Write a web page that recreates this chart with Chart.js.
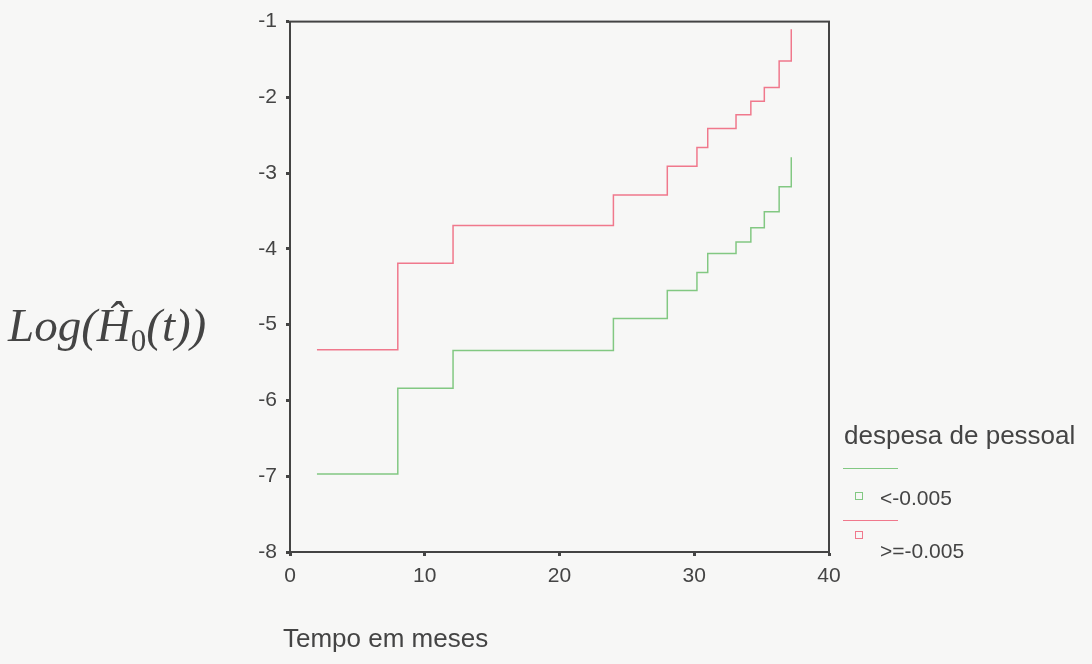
<!DOCTYPE html>
<html>
<head>
<meta charset="utf-8">
<script src="https://cdn.jsdelivr.net/npm/chart.js@4"></script>
<style>
  body { margin: 0; background: #f7f7f6; width: 1092px; height: 664px; overflow: hidden; position: relative; }
  #wrap { position: absolute; left: 0; top: 0; width: 1092px; height: 664px; }
  .lbl { position: absolute; font-family: "Liberation Sans", Arial, sans-serif; color: #444; white-space: nowrap; }
  #ytitle { position: absolute; left: 8px; top: 298px; font-family: "Liberation Serif", "Times New Roman", serif; font-size: 47px; color: #444; white-space: nowrap; }
  #ytitle sub { font-style: normal; font-size: 31px; vertical-align: -10px; }
  .sw { position: absolute; width: 55px; height: 0; border-top: 1.5px solid; }
  .sq { position: absolute; width: 6px; height: 6px; border: 1.5px solid; }
</style>
</head>
<body>
<div id="wrap"><canvas id="chart" width="1092" height="664"></canvas></div>
<div id="ytitle"><i>Log(Ĥ</i><sub>0</sub><i>(t))</i></div>
<div class="lbl" style="left:283px; top:623px; font-size:26px;">Tempo em meses</div>
<div class="lbl" style="left:844px; top:420px; font-size:26px;">despesa de pessoal</div>
<div class="sw" style="left:843px; top:468px; border-color:rgb(130,200,130);"></div>
<div class="sq" style="left:855px; top:492px; border-color:rgb(130,200,130);"></div>
<div class="lbl" style="left:880px; top:486px; font-size:21px;">&lt;-0.005</div>
<div class="sw" style="left:843px; top:520px; border-color:rgb(240,120,140);"></div>
<div class="sq" style="left:855px; top:531px; border-color:rgb(240,120,140);"></div>
<div class="lbl" style="left:880px; top:539px; font-size:21px;">&gt;=-0.005</div>
<script>
let tempos = [2, 8, 12.1, 24, 28, 30.2, 31, 33.1, 34.2, 35.2, 36.3, 37.2];
let grupoBaixo = [-6.97, -5.84, -5.34, -4.92, -4.55, -4.31, -4.06, -3.91, -3.72, -3.51, -3.18, -2.79];
let grupoAlto = [-5.33, -4.19, -3.69, -3.29, -2.91, -2.66, -2.41, -2.23, -2.05, -1.87, -1.52, -1.10];
let xTicks = [0, 10, 20, 30, 40];
let yTicks = [-8, -7, -6, -5, -4, -3, -2, -1];

function pontos(vals) {
    return tempos.map((t, i) => ({ x: t, y: vals[i] }));
}

// frame around the plot area (top and right sides)
let moldura = {
    id: 'moldura',
    afterDraw(chart) {
        let a = chart.chartArea;
        let c = chart.ctx;
        c.save();
        c.strokeStyle = '#444';
        c.lineWidth = 2;
        c.strokeRect(a.left, a.top, a.right - a.left, a.bottom - a.top);
        c.restore();
    }
};

let ctx = document.getElementById('chart').getContext('2d');
let chart = new Chart(ctx, {
    type: 'line',
    data: {
        datasets: [
        {
            label: '<-0.005',
            data: pontos(grupoBaixo),
            borderColor: 'rgb(130, 200, 130)',
            borderWidth: 1.5,
            stepped: true,
            pointRadius: 0,
            fill: false,
        },
        {
            label: '>=-0.005',
            data: pontos(grupoAlto),
            borderColor: 'rgb(240, 120, 140)',
            borderWidth: 1.5,
            stepped: true,
            pointRadius: 0,
            fill: false,
        },
        ]
    },
    options: {
        responsive: false,
        animation: false,
        layout: { padding: { top: 16, right: 263, left: 0, bottom: 0 } },
        plugins: { legend: { display: false }, tooltip: { enabled: false } },
        scales: {
            x: {
                type: 'linear',
                min: 0, max: 40,
                afterFit(s) { s.height = 112; },
                afterBuildTicks(s) { s.ticks = xTicks.map(v => ({ value: v })); },
                grid: { drawOnChartArea: false, tickLength: 4, tickWidth: 3, color: '#444' },
                border: { color: '#444', width: 2 },
                ticks: { color: '#444', padding: 8, maxRotation: 0, font: { family: 'Liberation Sans', size: 21 } },
            },
            y: {
                min: -8, max: -1,
                afterFit(s) { s.width = 290; },
                afterBuildTicks(s) { s.ticks = yTicks.map(v => ({ value: v })); },
                grid: { drawOnChartArea: false, tickLength: 4, tickWidth: 3, color: '#444' },
                border: { color: '#444', width: 2 },
                ticks: { color: '#444', padding: 9, font: { family: 'Liberation Sans', size: 21 } },
            }
        }
    },
    plugins: [moldura]
});
</script>
</body>
</html>
